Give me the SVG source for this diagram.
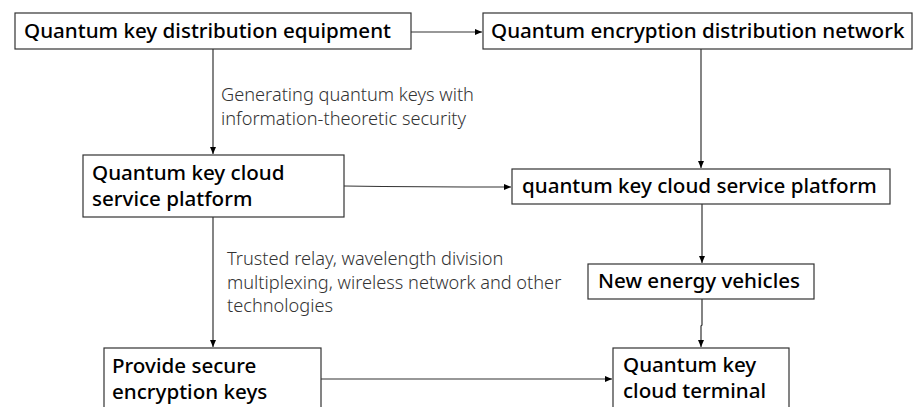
<svg xmlns="http://www.w3.org/2000/svg" width="915" height="407" viewBox="0 0 915 407">
<defs>
<marker id="ah" markerWidth="8" markerHeight="8" refX="7" refY="4" orient="auto" markerUnits="userSpaceOnUse">
<path d="M0,1 L7,4 L0,7 Z" fill="#000"/>
</marker>
<style>
.box{fill:#fff;stroke:#333;stroke-width:1.2}
.t{font-family:"Noto Sans","Liberation Sans",sans-serif;font-size:20.6px;font-weight:500;fill:#000}
.l{font-family:"Noto Sans","Liberation Sans",sans-serif;font-size:18.2px;font-weight:300;fill:#333}
.c{fill:none;stroke:#333;stroke-width:1.2;marker-end:url(#ah)}
</style>
</defs>
<rect width="915" height="407" fill="#fff"/>
<g id="connectors">
<path class="c" d="M411,32 H482"/>
<path class="c" d="M213,49 V154"/>
<path class="c" d="M701,49 V168"/>
<path class="c" d="M344,186 C420,187 470,187 511,187"/>
<path class="c" d="M213,217 V347"/>
<path class="c" d="M702,204 V263"/>
<path class="c" d="M702,299 V325 L701,326 V347"/>
<path class="c" d="M321,379 H612"/>
</g>
<g id="label1">
<text class="l" x="221" y="101">Generating quantum keys with</text>
<text class="l" x="221" y="125">information-theoretic security</text>
</g>
<g id="label2">
<text class="l" x="227" y="265">Trusted relay, wavelength division</text>
<text class="l" x="227" y="289">multiplexing, wireless network and other</text>
<text class="l" x="227" y="312">technologies</text>
</g>
<g id="n1">
<rect class="box" x="15" y="13" width="396" height="36"/>
<text class="t" x="24" y="38">Quantum key distribution equipment</text>
</g>
<g id="n2">
<rect class="box" x="483" y="13" width="429" height="36"/>
<text class="t" x="491" y="38">Quantum encryption distribution network</text>
</g>
<g id="n3">
<rect class="box" x="83" y="155" width="261" height="62"/>
<text class="t" x="92" y="180">Quantum key cloud</text>
<text class="t" x="92" y="206">service platform</text>
</g>
<g id="n4">
<rect class="box" x="512" y="169" width="378" height="35"/>
<text class="t" x="522" y="193">quantum key cloud service platform</text>
</g>
<g id="n5">
<rect class="box" x="588" y="264" width="226" height="35"/>
<text class="t" x="598" y="288">New energy vehicles</text>
</g>
<g id="n6">
<rect class="box" x="613" y="348" width="176" height="70"/>
<text class="t" x="623" y="372">Quantum key</text>
<text class="t" x="623" y="398">cloud terminal</text>
</g>
<g id="n7">
<rect class="box" x="104" y="348" width="217" height="70"/>
<text class="t" x="112" y="373">Provide secure</text>
<text class="t" x="112" y="399">encryption keys</text>
</g>
</svg>
